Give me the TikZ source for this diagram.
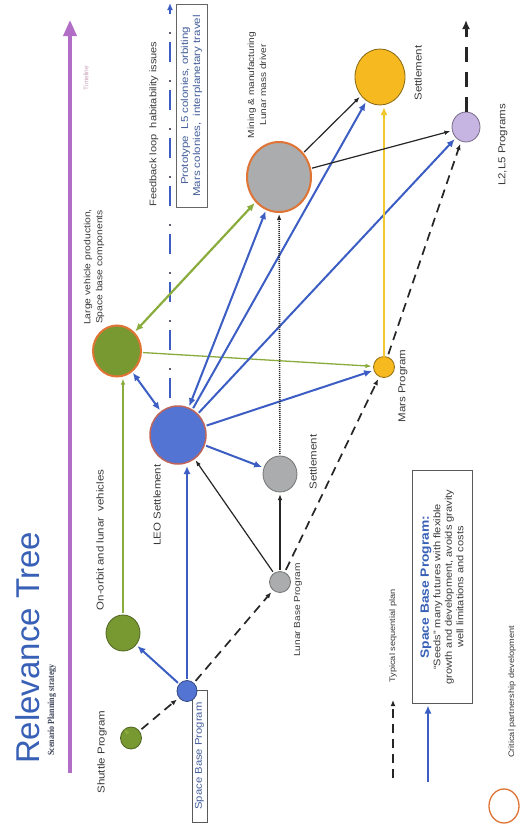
\documentclass[tikz,border=0pt]{standalone}
\usepackage{fontspec}
\setmainfont{Liberation Sans}
\newfontfamily\subtitlefont{Liberation Serif}
\usetikzlibrary{arrows.meta,shapes.geometric}

\definecolor{titleblue}{RGB}{56,96,182}
\definecolor{linkblue}{RGB}{60,94,196}
\definecolor{planetblue}{RGB}{84,116,212}
\definecolor{olive}{RGB}{120,152,50}
\definecolor{linkgreen}{RGB}{138,172,60}
\definecolor{partner}{RGB}{224,116,52}
\definecolor{leorim}{RGB}{190,100,90}
\definecolor{stone}{RGB}{170,172,174}
\definecolor{gold}{RGB}{246,186,32}
\definecolor{goldline}{RGB}{242,200,48}
\definecolor{lilac}{RGB}{198,180,226}
\definecolor{timeline}{RGB}{178,110,198}
\definecolor{ink}{RGB}{58,58,58}
\definecolor{boxtext}{RGB}{70,96,156}
\definecolor{faint}{RGB}{200,160,180}
\definecolor{subtitle}{RGB}{62,70,90}
\definecolor{dotink}{RGB}{30,36,70}

\begin{document}
\begin{tikzpicture}[x=1pt,y=-1pt,
  every node/.style={inner sep=0pt,outer sep=0pt},
  orb/.style 2 args={ellipse,minimum width=#1,minimum height=#2,line width=0.8pt},
  lbl/.style={rotate=90,xscale=1.15,align=center,text=ink,font=\fontsize{10}{12}\selectfont},
  blueA/.style={draw=linkblue,line width=2pt,-{Latex[length=8pt,width=7pt]},shorten >=2pt,shorten <=2pt},
  blueAA/.style={draw=linkblue,line width=2pt,{Latex[length=8pt,width=7pt]}-{Latex[length=8pt,width=7pt]},shorten >=2pt,shorten <=2pt},
  greenA/.style={draw=linkgreen,line width=1.3pt,-{Latex[length=6pt,width=4.5pt]},shorten >=2pt,shorten <=2pt},
  greenAA/.style={draw=linkgreen,line width=2.2pt,{Latex[length=8pt,width=7pt]}-{Latex[length=8pt,width=7pt]},shorten >=2pt,shorten <=2pt},
  blackA/.style={draw=black!85,line width=1.2pt,-{Latex[length=6pt,width=4.5pt]},shorten >=2pt,shorten <=2pt},
  planA/.style={draw=black!85,line width=1.7pt,dash pattern=on 9pt off 6pt,-{Latex[length=6pt,width=5pt]},shorten >=3pt,shorten <=3pt},
]
\useasboundingbox (0,0) rectangle (524,835);
\fill[white] (0,0) rectangle (524,835);

% heading
\node[rotate=90,text=titleblue,font=\fontsize{33}{36}\selectfont] (title) at (28,648) {Relevance Tree};
\node[rotate=90,xscale=0.85,text=subtitle,font=\subtitlefont\bfseries\fontsize{9.4}{10}\selectfont] (subtitle) at (52,710) {Scenario Planning strategy};

% timeline
\coordinate (tl0) at (70,773);
\coordinate (tl1) at (70,20);
\draw[draw=timeline,line width=3.5pt,-{Triangle[length=16pt,width=13pt]}] (tl0) -- (tl1);
\node[rotate=90,text=faint,font=\fontsize{6.5}{7}\selectfont] (tllabel) at (86,78) {Timeline};

% feedback loop: blue dashes with dark dots between them
\coordinate (fb0) at (170,398);
\coordinate (fb1) at (170,3);
\draw[draw=linkblue,line width=2pt,dash pattern=on 20pt off 28pt,-{Latex[length=7pt,width=6pt]}] (fb0) -- (fb1);
\draw[draw=dotink,line width=2.4pt,line cap=round,dash pattern=on 0.01pt off 47.99pt,dash phase=19pt,shorten >=8pt] (fb0) -- (fb1);
\node[lbl,font=\fontsize{9.6}{10}\selectfont] (fblabel) at (154,124) {Feedback loop\ \ habitability issues};
\node[lbl,draw=black!60,line width=0.6pt,minimum width=177,minimum height=31,text=boxtext,font=\fontsize{10}{12}\selectfont] (protobox) at (191.5,106) {Prototype\ \ L5 colonies, orbiting\\Mars colonies,\ \ interplanetary travel};

% programmes and outcomes
\node[lbl,draw=black!65,line width=0.6pt,minimum width=115,minimum height=15,text=boxtext,font=\fontsize{9.8}{11}\selectfont] (sbbox) at (199.5,756) {Space Base Program};

\node[orb={21}{22},fill=olive,draw=olive!65!black] (shuttle) at (131,738) {};
\node[orb={34}{36},fill=olive,draw=olive!65!black] (onorbit) at (123,633) {};
\node[orb={48}{51},fill=olive,draw=partner,line width=2pt] (large) at (117,351) {};
\node[orb={20}{21},fill=planetblue,draw=planetblue!60!black] (spacebase) at (187,691) {};
\node[orb={56}{58},fill=planetblue,draw=leorim,line width=1.5pt] (leo) at (178,435) {};
\node[orb={21}{21},fill=stone,draw=black!55] (lunar) at (280,582) {};
\node[orb={34}{36},fill=stone,draw=black!55] (greyset) at (280,474) {};
\node[orb={64}{70},fill=stone,draw=partner,line width=2pt] (mining) at (279,177) {};
\node[orb={21}{21},fill=gold,draw=gold!60!black] (mars) at (384,367) {};
\node[orb={50}{56},fill=gold,draw=gold!55!black] (yellowset) at (380,77) {};
\node[orb={28}{30},fill=lilac,draw=lilac!60!black] (l2l5) at (466,127) {};

% labels
\node[lbl] (shuttlelbl) at (102,752) {Shuttle Program};
\node[lbl] (onorbitlbl) at (100,540) {On-orbit and lunar\ \ vehicles};
\node[lbl,font=\fontsize{9}{12}\selectfont] (largelbl) at (94,267) {Large vehicle production,\\Space base components};
\node[lbl] (leolbl) at (157,505) {LEO Settlement};
\node[lbl,font=\fontsize{8.8}{10}\selectfont] (lunarlbl) at (298,610) {Lunar Base Program};
\node[lbl] (greysetlbl) at (313,462) {Settlement};
\node[lbl,font=\fontsize{8.8}{12}\selectfont] (mininglbl) at (257,85) {Mining \& manufacturing\\Lunar mass driver};
\node[lbl] (marslbl) at (403,386) {Mars Program};
\node[lbl] (yellowsetlbl) at (418,73) {Settlement};
\node[lbl] (l2l5lbl) at (503,145) {L2,L5 Programs};

% connectors
\draw[planA] (shuttle) -- (spacebase);
\draw[greenA] (shuttle) -- (shuttle.north -| onorbit);
\draw[blueA] (spacebase) -- (onorbit);
\draw[blueA] (spacebase.north) -- (spacebase.north |- leo.south);
\draw[planA] (spacebase) -- (lunar);
\draw[greenA] (onorbit.north) -- (onorbit.north |- large.south);
\draw[blueAA] (large) -- (leo);
\draw[greenAA] (large) -- (mining);
\draw[greenA] (large) -- (mars);
\draw[blueAA] (leo) -- (mining);
\draw[blueA] (leo) -- (yellowset);
\draw[blueA] (leo) -- (l2l5);
\draw[blueA] (leo) -- (mars);
\draw[blueA] (leo) -- (greyset);
\draw[blackA] (lunar) -- (leo);
\draw[blackA] (lunar) -- (greyset);
\draw[blackA,line width=1.6pt,dash pattern=on 1pt off 1pt] (greyset) -- (mining);
\draw[planA] (lunar) -- (mars);
\draw[planA] (mars) -- (l2l5);
\draw[draw=goldline,line width=2pt,-{Latex[length=8pt,width=7pt]},shorten >=2pt] (mars.north) -- (mars.north |- yellowset.south);
\draw[blackA] (mining) -- (yellowset);
\draw[blackA] (mining) -- (l2l5);
\coordinate (l2top) at (466,20);
\draw[draw=black!85,line width=3pt,dash pattern=on 15pt off 10pt,-{Latex[length=9pt,width=8pt]}] (l2l5.north) -- (l2top);

% legend
\coordinate (lgplan0) at (393,778);
\coordinate (lgplan1) at (393,700);
\draw[planA,shorten >=0pt,shorten <=0pt] (lgplan0) -- (lgplan1);
\node[lbl,font=\fontsize{8}{10}\selectfont] (lgplanlbl) at (393,636) {Typical sequential plan};
\node[lbl,draw=black!65,line width=0.8pt,minimum width=202.6,minimum height=60,font=\fontsize{9.6}{11.5}\selectfont] (lgbox) at (442,587)
  {{\color{titleblue}\bfseries\fontsize{12}{14}\selectfont Space Base Program:}\\``Seeds'' many futures with flexible\\growth and development, avoids gravity\\well limitations and costs};
\coordinate (lgblue0) at (428,782);
\draw[blueA,shorten <=0pt] (lgblue0) -- (lgblue0 |- lgbox.west);
\node[ellipse,draw=partner,line width=1.3pt,minimum width=30,minimum height=34] (lgring) at (504,806) {};
\node[lbl,font=\fontsize{8}{10}\selectfont] (lgringlbl) at (512,692) {Critical partnership development};
\end{tikzpicture}
\end{document}
